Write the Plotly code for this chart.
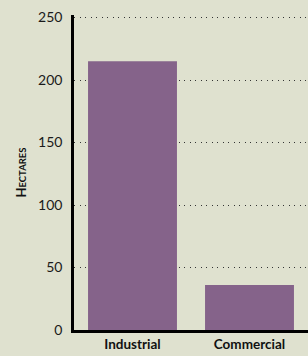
import plotly.graph_objects as go

categories = ["Industrial", "Commercial"]
hectares = [215, 36]
tick_vals = [0, 50, 100, 150, 200, 250]
tick_text = ["0", "50", "100", "150", "200", "250"]

BG = "#dfe1cf"
BAR = "#85638a"

fig = go.Figure(go.Bar(x=categories, y=hectares, marker=dict(color=BAR, line=dict(width=0))))

fig.update_layout(
    template="none",
    width=308, height=356,
    margin=dict(l=74, r=0, t=15, b=26, autoexpand=False),
    paper_bgcolor=BG, plot_bgcolor=BG,
    bargap=0.24,
    showlegend=False,
    font=dict(family="Lato", color="#111111"),
)
fig.update_xaxes(
    automargin=False,
    showline=True, linecolor="#000000", linewidth=2.5,
    showgrid=False, ticks="",
    tickfont=dict(family="Lato", size=13.5, color="#111111", weight="bold"),
)
fig.update_yaxes(
    automargin=False,
    range=[0, 252], tickvals=tick_vals, ticktext=tick_text,
    showline=True, linecolor="#000000", linewidth=2.5,
    showgrid=True, gridcolor="#333333", gridwidth=1, griddash="1px,4.5px",
    zeroline=False, ticks="", ticklabelstandoff=6,
    tickfont=dict(family="Lato", size=14, color="#1a1a1a"),
    title=dict(text="H<span style='font-size:9.5px'>ECTARES</span>",
               font=dict(family="Lato", size=13, color="#111111", weight="bold"),
               standoff=9),
)

fig.write_html(
    "out.html",
    config={"displayModeBar": False},
    post_script="document.body.style.margin='0';document.body.style.overflow='hidden';document.body.style.background='#dfe1cf';",
)
